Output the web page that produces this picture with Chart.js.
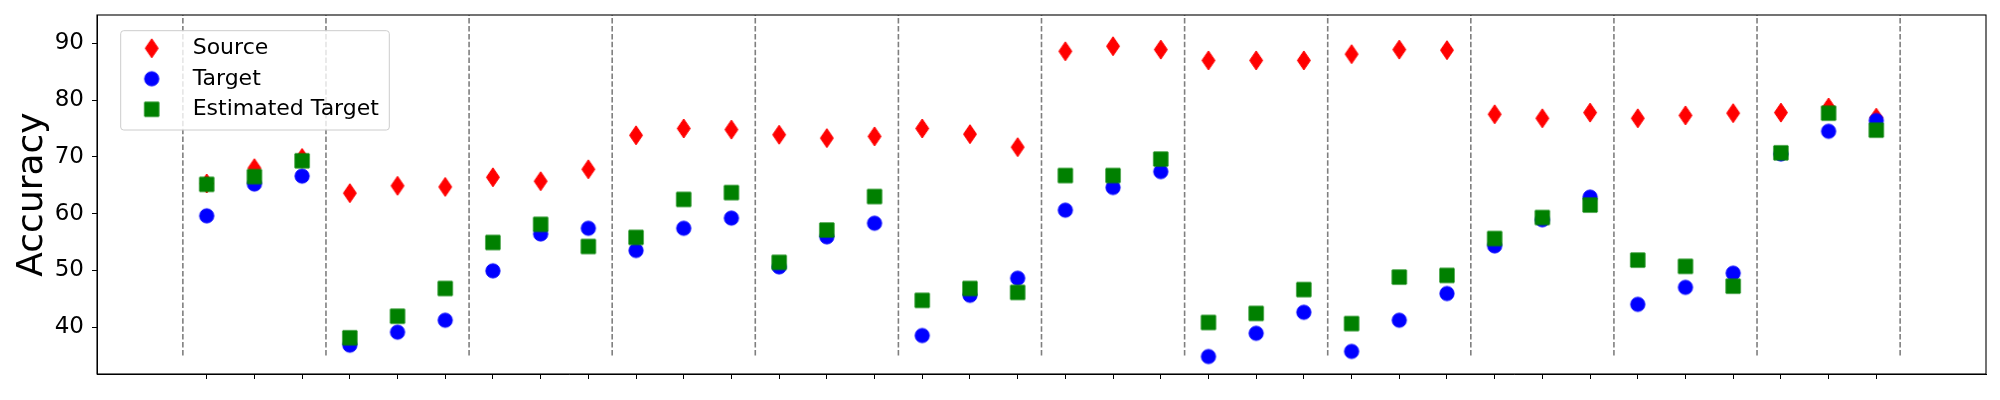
<!DOCTYPE html>
<html>
<head>
<meta charset="utf-8">
<script src="https://cdn.jsdelivr.net/npm/chart.js@4.4.0/dist/chart.umd.min.js"></script>
<style>
  html, body { margin: 0; padding: 0; background: #fff; }
  canvas { display: block; }
</style>
</head>
<body>
<canvas id="chart1" width="2000" height="400"></canvas>
<script>
// x positions of the 36 runs (12 groups of 3)
const xPos = [0, 1, 2, 3, 4, 5, 6, 7, 8, 9, 10, 11, 12, 13, 14, 15, 16, 17,
              18, 19, 20, 21, 22, 23, 24, 25, 26, 27, 28, 29, 30, 31, 32, 33, 34, 35];
// dashed separators between groups
const groupEdges = [-0.5, 2.5, 5.5, 8.5, 11.5, 14.5, 17.5, 20.5, 23.5, 26.5, 29.5, 32.5, 35.5];
const edgeRange = [35, 95];
const yTicks = [40, 50, 60, 70, 80, 90];

const source = [65.3, 68.0, 69.8, 63.6, 64.9, 64.7, 66.4, 65.7, 67.8, 73.8, 75.0, 74.8,
                73.9, 73.3, 73.6, 75.0, 74.0, 71.7, 88.6, 89.5, 88.9, 87.0, 87.0, 87.0,
                88.1, 88.9, 88.8, 77.5, 76.8, 77.8, 76.8, 77.3, 77.7, 77.8, 78.7, 76.9];
const target = [59.6, 65.2, 66.6, 36.8, 39.1, 41.2, 49.9, 56.4, 57.4, 53.5, 57.4, 59.2,
                50.6, 55.9, 58.3, 38.5, 45.6, 48.6, 60.6, 64.6, 67.4, 34.8, 38.9, 42.6,
                35.7, 41.2, 45.9, 54.3, 58.9, 62.9, 44.0, 47.0, 49.5, 70.5, 74.5, 76.4];
const estTarget = [65.15, 66.5, 69.3, 38.1, 41.9, 46.8, 54.9, 58.1, 54.2, 55.8, 62.5, 63.7,
                   51.4, 57.1, 63.0, 44.7, 46.8, 46.1, 66.7, 66.7, 69.6, 40.8, 42.4, 46.6,
                   40.6, 48.8, 49.1, 55.6, 59.3, 61.5, 51.8, 50.7, 47.2, 70.7, 77.7, 74.7];

Chart.defaults.font.family = 'DejaVu Sans';
Chart.defaults.color = '#000';

// marker images (matplotlib-like 'd', 'o', 's')
function makeMarker(shape, color) {
  const c = document.createElement('canvas');
  const ctx = c.getContext('2d');
  if (shape === 'diamond') {
    c.width = 16; c.height = 21;
    ctx.beginPath();
    ctx.moveTo(8, 1); ctx.lineTo(14.5, 10.5); ctx.lineTo(8, 20); ctx.lineTo(1.5, 10.5);
    ctx.closePath();
  } else if (shape === 'circle') {
    c.width = 18; c.height = 18;
    ctx.beginPath();
    ctx.arc(9, 9, 7.1, 0, Math.PI * 2);
  } else {
    c.width = 18; c.height = 18;
    ctx.beginPath();
    ctx.rect(1.9, 1.9, 14.2, 14.2);
  }
  ctx.fillStyle = color;
  ctx.strokeStyle = color;
  ctx.lineWidth = 1;
  ctx.lineJoin = 'round';
  ctx.fill();
  ctx.stroke();
  return c;
}

const redDiamond = makeMarker('diamond', '#ff0000');
const blueCircle = makeMarker('circle', '#0000ff');
const greenSquare = makeMarker('square', '#008000');

function toPoints(vals) {
  return vals.map((v, i) => ({x: xPos[i], y: v}));
}

const datasets = [
  {label: 'Source', data: toPoints(source), pointStyle: redDiamond, pointRadius: 7,
   backgroundColor: '#ff0000', borderColor: '#ff0000', order: 3},
  {label: 'Target', data: toPoints(target), pointStyle: blueCircle, pointRadius: 7,
   backgroundColor: '#0000ff', borderColor: '#0000ff', order: 2},
  {label: 'Estimated Target', data: toPoints(estTarget), pointStyle: greenSquare, pointRadius: 7,
   backgroundColor: '#008000', borderColor: '#008000', order: 1}
];

groupEdges.forEach(e => {
  datasets.push({
    label: 'edge',
    data: [{x: e, y: edgeRange[0]}, {x: e, y: edgeRange[1]}],
    showLine: true,
    borderColor: '#7f7f7f',
    borderWidth: 1.6,
    borderDash: [5.5, 2.4],
    pointRadius: 0,
    order: 10
  });
});

// legend drawn on top of the dashed lines, in the upper left of the plot
const legendBox = {
  id: 'legendBox',
  beforeLayout(chart) {
    const lg = chart.legend;
    if (!lg) return;
    lg._layers = () => [{
      z: 1,
      draw: (area) => {
        const ctx = chart.ctx;
        ctx.save();
        ctx.beginPath();
        ctx.roundRect(120.7, 30.7, 268.6, 99.3, 3);
        ctx.fillStyle = 'rgba(255,255,255,0.8)';
        ctx.fill();
        ctx.strokeStyle = '#cccccc';
        ctx.lineWidth = 1;
        ctx.stroke();
        ctx.restore();
        lg.draw(area);
      }
    }];
  },
  afterLayout(chart) {
    const lg = chart.legend;
    if (!lg) return;
    lg.left = 113.2; lg.top = 28.8;
    lg.width = 300; lg.height = 200;
    lg.right = lg.left + lg.width; lg.bottom = lg.top + lg.height;
  }
};

// full box around the axes
const frame = {
  id: 'frame',
  afterDraw(chart) {
    const {ctx, chartArea: a} = chart;
    ctx.save();
    ctx.strokeStyle = '#000';
    ctx.lineWidth = 1.1;
    ctx.strokeRect(a.left, a.top, a.right - a.left, a.bottom - a.top);
    ctx.restore();
  }
};

function noPad(s) {
  s.paddingTop = 0; s.paddingBottom = 0; s.paddingLeft = 0; s.paddingRight = 0;
}

const config = {
  type: 'scatter',
  data: {datasets: datasets},
  options: {
    responsive: false,
    animation: false,
    devicePixelRatio: 1,
    layout: {padding: {top: 15, right: 14, left: 0, bottom: 0}},
    scales: {
      x: {
        type: 'linear',
        min: -2.3,
        max: 37.3,
        afterBuildTicks: s => { s.ticks = xPos.map(v => ({value: v})); },
        afterFit: s => { s.height = 26; noPad(s); },
        ticks: {callback: () => '', autoSkip: false, maxRotation: 0},
        grid: {drawOnChartArea: false, drawTicks: true, tickLength: 5, color: '#000'},
        border: {display: true, color: '#000', width: 1}
      },
      y: {
        min: 31.72,
        max: 95,
        afterBuildTicks: s => { s.ticks = yTicks.map(v => ({value: v})); },
        afterFit: s => { s.width = 97; noPad(s); },
        ticks: {font: {size: 23}, color: '#000', padding: 8},
        title: {display: true, text: 'Accuracy', font: {size: 36}, color: '#000', padding: {top: 11}},
        grid: {drawOnChartArea: false, drawTicks: true, tickLength: 5, color: '#000'},
        border: {display: true, color: '#000', width: 1}
      }
    },
    plugins: {
      legend: {
        position: 'chartArea',
        align: 'start',
        labels: {
          usePointStyle: true,
          pointStyleWidth: 60,
          padding: 8.5,
          font: {size: 22},
          color: '#000',
          filter: item => item.datasetIndex < 3,
          sort: (a, b) => a.datasetIndex - b.datasetIndex
        }
      },
      tooltip: {enabled: false}
    }
  },
  plugins: [legendBox, frame]
};

const chart1 = new Chart(document.getElementById('chart1'), config);
</script>
</body>
</html>
